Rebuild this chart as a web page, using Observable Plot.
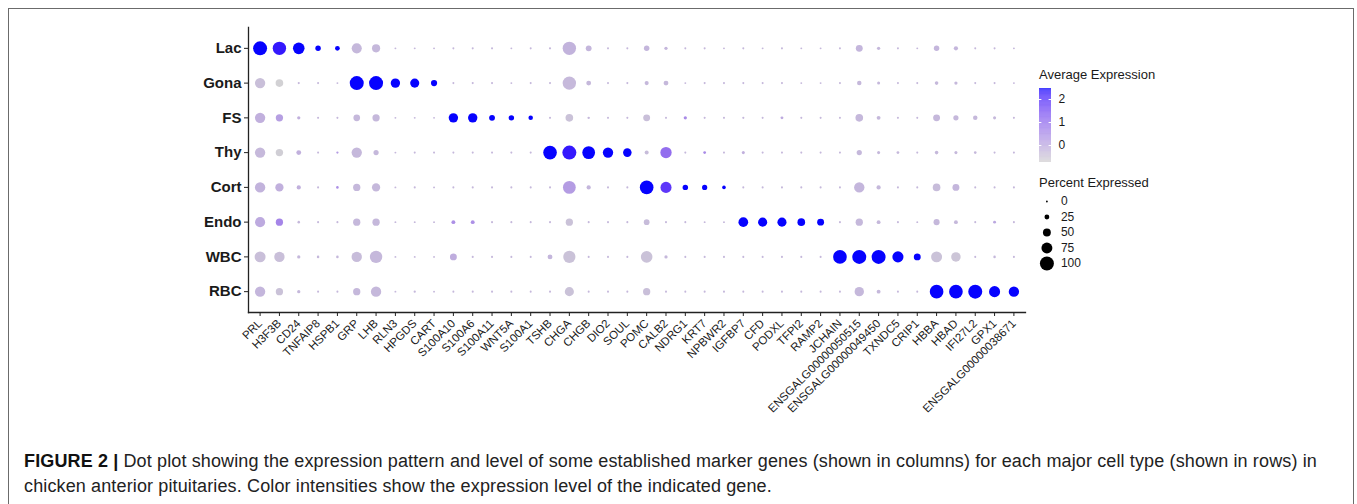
<!DOCTYPE html>
<html><head><meta charset="utf-8">
<script src="https://cdn.jsdelivr.net/npm/d3@7"></script>
<script src="https://cdn.jsdelivr.net/npm/@observablehq/plot@0.6"></script>
<style>
body{margin:0;background:#fff;font-family:"Liberation Sans",Arial,sans-serif;}
#wrap{position:relative;width:1357px;height:504px;overflow:hidden;background:#fff}
#frame{position:absolute;left:8px;top:8px;width:1346px;height:600px;border:1px solid #6b6b6b;box-sizing:border-box}
.abs{position:absolute}
.ltitle{position:absolute;font-size:13px;color:#1a1a1a;white-space:nowrap}
.cap{position:absolute;left:24px;font-size:18px;line-height:25px;color:#222;white-space:nowrap;letter-spacing:0.13px}
.cap b{color:#111}
</style></head>
<body>
<div id="wrap">
  <div id="frame"></div>
  <div id="main" class="abs" style="left:0;top:0"></div>
  <div class="ltitle" style="left:1039px;top:67px">Average Expression</div>
  <div id="cbar" class="abs" style="left:1036px;top:86px"></div>
  <div class="ltitle" style="left:1039px;top:175px">Percent Expressed</div>
  <div id="slegend" class="abs" style="left:1036px;top:193px"></div>
  <div class="cap" style="top:449px"><b>FIGURE 2 |</b><span> Dot plot showing the expression pattern and level of some established marker genes (shown in columns) for each major cell type (shown in rows) in</span></div>
  <div class="cap" style="top:474px"><span>chicken anterior pituitaries. Color intensities show the expression level of the indicated gene.</span></div>
</div>
<script>
const genes = ["PRL","H3F3B","CD24","TNFAIP8","HSPB1","GRP","LHB","RLN3","HPGDS","CART",
  "S100A10","S100A6","S100A11","WNT5A","S100A1","TSHB","CHGA","CHGB","DIO2","SOUL",
  "POMC","CALB2","NDRG1","KRT7","NPBWR2","IGFBP7","CFD","PODXL","TFPI2","RAMP2",
  "JCHAIN","ENSGALG00000050515","ENSGALG00000049450","TXNDC5","CRIP1","HBBA","HBAD","IFI27L2","GPX1","ENSGALG00000038671"];
const cellTypes = ["Lac","Gona","FS","Thy","Cort","Endo","WBC","RBC"];

// Percent expressed (per cell type, in gene order)
const pctLac  = [100,95,80,30,24,68,52,1,1,1, 2,2,2,1,2,3,95,33,2,2, 30,12,2,2,1,2,1,2,1,1, 2,42,12,2,1,30,20,2,2,1];
const pctGona = [70,48,3,2,1,100,100,62,60,36, 2,2,2,1,2,2,95,25,2,2, 19,25,1,2,2,2,2,2,1,1, 2,22,10,2,2,15,12,2,2,1];
const pctFS   = [70,45,12,2,2,40,45,1,1,1, 62,62,33,30,22,2,48,5,2,2, 42,2,12,2,2,3,2,9,2,2, 2,48,17,2,2,42,28,22,10,2];
const pctThy  = [70,46,25,2,4,70,28,1,2,2, 2,2,2,2,2,97,100,90,70,55, 18,78,2,8,2,10,2,2,2,2, 2,28,10,8,2,14,10,7,2,2];
const pctCort = [70,53,20,2,6,45,53,1,2,1, 2,2,2,2,2,2,90,20,2,2, 97,76,30,28,15,2,2,2,2,2, 2,70,20,2,2,48,42,2,2,2];
const pctEndo = [68,45,6,2,2,45,45,1,1,1, 17,17,2,2,2,2,45,2,2,2, 32,2,2,1,1,65,60,60,48,42, 2,45,17,2,1,35,17,2,9,2];
const pctWBC  = [75,70,12,6,6,70,87,1,1,1, 42,2,2,2,2,25,85,2,2,2, 80,12,2,2,2,2,2,2,2,2, 97,100,100,76,42,75,63,2,6,2];
const pctRBC  = [70,45,12,2,2,45,70,1,4,1, 2,2,2,2,2,2,60,2,2,2, 45,2,2,2,2,2,2,2,2,2, 2,62,17,2,2,97,97,100,76,70];

// Average expression (scaled), per cell type, in gene order
const avgLac  = [2.47,2.3,2.47,2.47,2.47,-0.28,-0.28,-0.28,-0.28,-0.28, -0.28,-0.28,-0.28,-0.28,-0.28,-0.28,-0.2,-0.25,-0.28,-0.28, -0.25,-0.25,-0.28,-0.28,-0.28,-0.28,-0.28,-0.28,-0.28,-0.28, -0.28,-0.25,-0.28,-0.28,-0.28,-0.25,-0.25,-0.28,-0.28,-0.28];
const avgGona = [-0.4,-0.7,-0.28,-0.28,-0.28,2.47,2.47,2.47,2.47,2.47, -0.28,-0.28,-0.28,-0.28,-0.28,-0.28,-0.3,-0.28,-0.28,-0.28, -0.28,-0.28,-0.28,-0.28,-0.28,-0.28,-0.28,-0.28,-0.28,-0.28, -0.28,-0.28,-0.28,-0.28,-0.28,-0.28,-0.28,-0.28,-0.28,-0.28];
const avgFS   = [-0.15,0.15,-0.15,-0.28,-0.28,-0.28,-0.28,-0.28,-0.28,-0.28, 2.47,2.47,2.47,2.47,2.47,-0.28,-0.45,-0.28,-0.28,-0.28, -0.4,-0.28,0.5,-0.28,-0.28,-0.28,-0.28,-0.05,-0.28,-0.28, -0.28,-0.28,-0.28,-0.28,-0.28,-0.28,-0.28,-0.28,-0.28,-0.28];
const avgThy  = [-0.3,-0.65,-0.15,-0.28,0.2,-0.28,-0.28,-0.28,-0.28,-0.28, -0.28,-0.28,-0.28,-0.28,-0.28,2.47,2.3,2.47,2.47,2.47, -0.35,1.0,-0.28,0.5,-0.28,-0.15,-0.28,-0.28,-0.28,-0.28, -0.28,-0.28,-0.28,-0.28,-0.28,-0.28,-0.28,-0.28,-0.28,-0.28];
const avgCort = [-0.2,-0.15,-0.15,-0.28,0.4,-0.28,-0.28,-0.28,-0.28,-0.28, -0.28,-0.28,-0.28,-0.28,-0.28,-0.28,0.2,-0.25,-0.28,-0.28, 2.47,1.9,2.47,2.47,2.47,-0.28,-0.28,-0.28,-0.28,-0.28, -0.28,-0.25,-0.28,-0.28,-0.28,-0.35,-0.25,-0.28,-0.28,-0.28];
const avgEndo = [-0.05,0.6,-0.28,-0.28,-0.28,-0.28,-0.28,-0.28,-0.28,-0.28, 0.4,0.4,-0.28,-0.28,-0.28,-0.28,-0.45,-0.28,-0.28,-0.28, -0.35,-0.28,-0.28,-0.28,-0.28,2.47,2.47,2.47,2.47,2.47, -0.28,-0.28,-0.28,-0.28,-0.28,-0.28,-0.28,-0.28,0.0,-0.28];
const avgWBC  = [-0.4,-0.4,-0.28,-0.28,-0.28,-0.35,-0.28,-0.28,-0.28,-0.28, -0.1,-0.28,-0.28,-0.28,-0.28,-0.25,-0.45,-0.28,-0.28,-0.28, -0.45,-0.28,-0.28,-0.28,-0.28,-0.28,-0.28,-0.28,-0.28,-0.28, 2.47,2.47,2.47,2.47,2.47,-0.45,-0.5,-0.28,-0.28,-0.28];
const avgRBC  = [-0.25,-0.45,-0.28,-0.28,-0.28,-0.28,-0.28,-0.28,-0.28,-0.28, -0.28,-0.28,-0.28,-0.28,-0.28,-0.28,-0.45,-0.28,-0.28,-0.28, -0.4,-0.28,-0.28,-0.28,-0.28,-0.28,-0.28,-0.28,-0.28,-0.28, -0.28,-0.28,-0.28,-0.28,-0.28,2.47,2.47,2.47,2.47,2.47];

const colorTicks = [0, 1, 2];
const sizeTicks = [0, 25, 50, 75, 100];

const pctRows = [pctLac,pctGona,pctFS,pctThy,pctCort,pctEndo,pctWBC,pctRBC];
const avgRows = [avgLac,avgGona,avgFS,avgThy,avgCort,avgEndo,avgWBC,avgRBC];
const data = [];
cellTypes.forEach((c, i) => genes.forEach((g, j) => data.push({cell: c, gene: g, pct: pctRows[i][j], avg: avgRows[i][j]})));

const colorDomain = [-0.74, 2.48];
const colorScale = {type: "linear", domain: colorDomain, range: ["lightgrey", "blue"], interpolate: "lab"};
const rScale = {type: "linear", domain: [0, 100], range: [0.9, 7.0]};
const font = "Liberation Sans, Arial, sans-serif";

const main = Plot.plot({
  width: 1357, height: 420,
  marginLeft: 248, marginRight: 332, marginTop: 27, marginBottom: 108,
  style: {fontFamily: font, background: "transparent", color: "#1a1a1a"},
  x: {type: "point", domain: genes, padding: 0.6, round: false, label: null},
  y: {type: "point", domain: cellTypes, padding: 0.6, round: false, label: null},
  color: colorScale,
  r: rScale,
  marks: [
    Plot.frame({anchor: "left", stroke: "#222", strokeWidth: 1.3}),
    Plot.frame({anchor: "bottom", stroke: "#222", strokeWidth: 1.3}),
    Plot.axisY({tickSize: 4, tickPadding: 3, fontSize: 15, fontWeight: "bold", stroke: "#222", label: null}),
    Plot.axisX({tickSize: 4, tickPadding: 5, tickRotate: -45, fontSize: 11.5, stroke: "#222", label: null}),
    Plot.dot(data, {x: "gene", y: "cell", r: "pct", fill: "avg", stroke: null, sort: null})
  ]
});
document.getElementById("main").appendChild(main);

// Colorbar legend
const barStops = d3.range(colorDomain[0], colorDomain[1], 0.02);
const cbar = Plot.plot({
  width: 60, height: 78, marginTop: 2, marginBottom: 2, marginLeft: 3, marginRight: 45,
  style: {fontFamily: font, background: "transparent", color: "#1a1a1a"},
  x: {type: "linear", domain: [0, 1], axis: null},
  y: {type: "linear", domain: colorDomain, axis: null},
  color: colorScale,
  marks: [
    Plot.rect(barStops, {x1: 0, x2: 1, y1: d => d, y2: d => Math.min(d + 0.021, colorDomain[1]), fill: d => d + 0.01}),
    Plot.ruleY(colorTicks, {x1: 0, x2: 0.2, stroke: "white", strokeWidth: 1}),
    Plot.ruleY(colorTicks, {x1: 0.8, x2: 1, stroke: "white", strokeWidth: 1}),
    Plot.text(colorTicks, {x: 1, y: d => d, text: d => String(d), dx: 7, textAnchor: "start", fontSize: 12, fill: "#1a1a1a"})
  ]
});
document.getElementById("cbar").appendChild(cbar);

// Size legend
const slegend = Plot.plot({
  width: 70, height: 78, marginTop: 8, marginBottom: 8, marginLeft: 2, marginRight: 40,
  style: {fontFamily: font, background: "transparent", color: "#1a1a1a"},
  x: {type: "linear", domain: [0, 1], axis: null},
  y: {type: "point", domain: sizeTicks, padding: 0, round: false, axis: null},
  r: rScale,
  marks: [
    Plot.dot(sizeTicks, {x: 0.3, y: d => d, r: d => d, fill: "black", stroke: null}),
    Plot.text(sizeTicks, {x: 0.3, y: d => d, text: d => String(d), dx: 14, textAnchor: "start", fontSize: 12, fill: "#1a1a1a"})
  ]
});
document.getElementById("slegend").appendChild(slegend);
</script>
</body></html>
